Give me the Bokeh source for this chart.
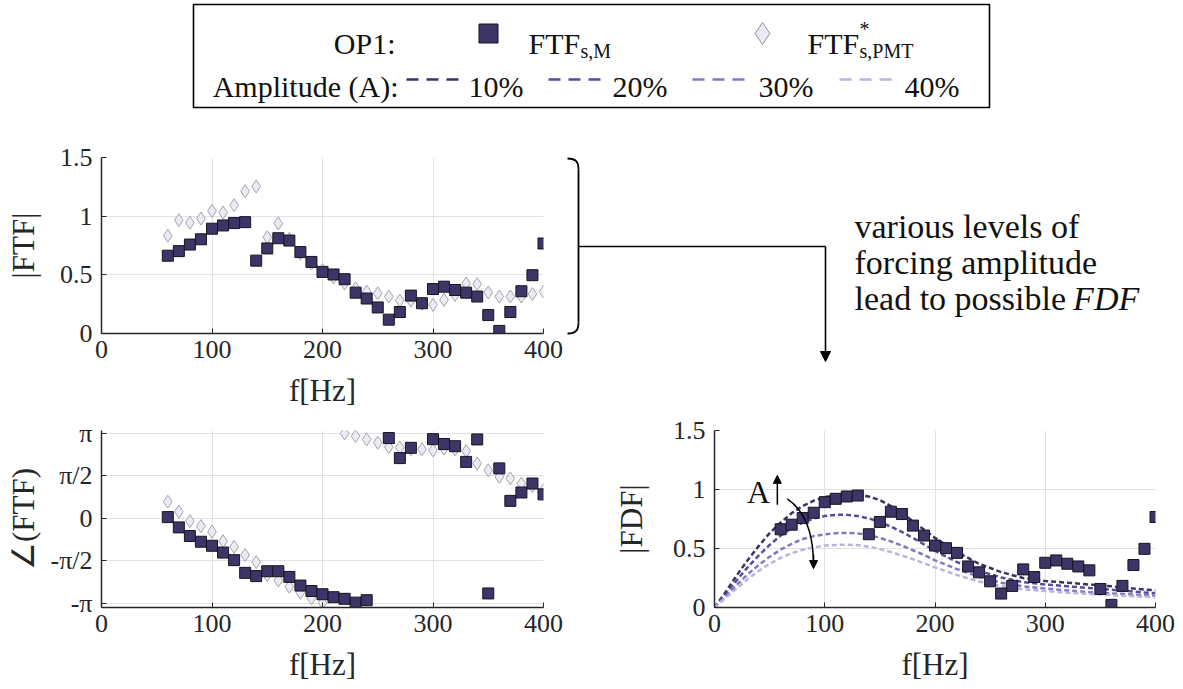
import math
from bokeh.plotting import figure
from bokeh.layouts import column, row
from bokeh.models import Range1d, FixedTicker, Label, Arrow, NormalHead
from bokeh.embed import file_html
from bokeh.resources import INLINE

FONT = "Liberation Serif"
nan = float("nan")
PI = math.pi

# ---------------- data ----------------
freq = list(range(60, 401, 10))
ftf_m_mag = [0.663, 0.702, 0.758, 0.803, 0.893, 0.921, 0.941, 0.949, 0.621, 0.725,
             0.812, 0.792, 0.694, 0.610, 0.525, 0.503, 0.463, 0.348, 0.298, 0.222,
             0.118, 0.183, 0.323, 0.258, 0.379, 0.399, 0.371, 0.348, 0.315, 0.157,
             0.022, 0.183, 0.360, 0.497, 0.767]
ftf_pmt_mag = [0.834, 0.966, 0.944, 0.980, 1.045, 1.031, 1.093, 1.213, 1.253, 0.820,
               0.938, 0.806, 0.680, 0.596, 0.540, 0.478, 0.427, 0.385, 0.357, 0.343,
               0.315, 0.281, 0.281, 0.253, 0.244, 0.287, 0.329, 0.427, 0.421, 0.350,
               0.315, 0.315, 0.315, 0.337, 0.357]
ftf_m_phase = [0.05, -0.33, -0.65, -0.86, -1.01, -1.26, -1.54, -2.01, -2.13, -1.95,
               -1.95, -2.16, -2.48, -2.68, -2.80, -2.91, -2.97, -3.11, -3.02, nan,
               2.97, 2.23, 2.61, nan, 2.93, 2.75, 2.67, 2.09, 2.92, -2.77,
               1.85, 0.65, 0.96, 1.29, 0.89]
ftf_pmt_phase = [0.62, 0.25, -0.10, -0.28, -0.49, -0.84, -1.05, -1.35, -1.61, -2.09,
                 -2.29, -2.52, -2.74, -2.95, -3.11, nan, 3.14, 3.04, 2.92, 2.80,
                 2.64, 2.62, 2.56, 2.56, 2.52, 2.58, 2.55, 2.49, 2.03, 1.78,
                 1.54, 1.48, 1.29, 1.20, 1.05]

fdf_freq = [0, 10, 20, 30, 40, 50, 60, 70, 80, 90, 100, 110, 120, 130, 140, 150, 160,
            170, 180, 190, 200, 220, 240, 260, 280, 300, 320, 340, 360, 380, 400]
fdf_a10 = [0, 0.13, 0.27, 0.40, 0.52, 0.63, 0.72, 0.80, 0.86, 0.905, 0.935, 0.95, 0.955,
           0.955, 0.94, 0.91, 0.86, 0.80, 0.73, 0.66, 0.59, 0.47, 0.37, 0.30, 0.25,
           0.225, 0.21, 0.195, 0.18, 0.16, 0.145]
fdf_a20 = [0, 0.11, 0.23, 0.34, 0.44, 0.53, 0.61, 0.67, 0.72, 0.755, 0.775, 0.785, 0.785,
           0.775, 0.755, 0.725, 0.685, 0.64, 0.59, 0.535, 0.48, 0.385, 0.31, 0.255, 0.215,
           0.195, 0.18, 0.165, 0.15, 0.135, 0.12]
fdf_a30 = [0, 0.09, 0.19, 0.28, 0.36, 0.43, 0.49, 0.54, 0.58, 0.605, 0.62, 0.63, 0.632,
           0.628, 0.615, 0.59, 0.56, 0.525, 0.485, 0.445, 0.40, 0.325, 0.26, 0.21, 0.18,
           0.16, 0.145, 0.13, 0.12, 0.11, 0.10]
fdf_a40 = [0, 0.08, 0.16, 0.24, 0.31, 0.37, 0.42, 0.46, 0.49, 0.51, 0.525, 0.53, 0.532,
           0.528, 0.515, 0.495, 0.47, 0.44, 0.41, 0.375, 0.34, 0.275, 0.22, 0.18, 0.155,
           0.14, 0.125, 0.115, 0.105, 0.095, 0.087]
fdf_series = [fdf_a10, fdf_a20, fdf_a30, fdf_a40]
amp_labels = ["10%", "20%", "30%", "40%"]
amp_colors = ["#3b3266", "#5a4a9c", "#8677c2", "#bdb3df"]

x_ticks = [0, 100, 200, 300, 400]
mag_ticks = [0, 0.5, 1, 1.5]
mag_tick_labels = ["0", "0.5", "1", "1.5"]
phase_ticks = [-PI, -PI / 2, 0, PI / 2, PI]
phase_tick_labels = ["-π", "-π/2", "0", "π/2", "π"]

SQ_FILL, SQ_LINE = "#3d3567", "#15151f"
DI_FILL, DI_LINE = "#ecebf5", "#a3a3ab"
AX = "#262626"
TXT = "#111111"


def base_fig(w, h, xr, yr, **borders):
    p = figure(width=w, height=h, x_range=xr, y_range=yr, output_backend="svg",
               toolbar_location=None, **borders)
    p.outline_line_color = None
    p.background_fill_color = "white"
    p.border_fill_color = "white"
    p.frame_align = False
    return p


def style_axes(p, xlabel, ylabel, yticks, ylabels, ystand):
    p.xaxis.ticker = FixedTicker(ticks=x_ticks)
    p.yaxis.ticker = FixedTicker(ticks=yticks)
    p.xgrid.ticker = FixedTicker(ticks=x_ticks)
    p.ygrid.ticker = FixedTicker(ticks=yticks)
    p.yaxis.major_label_overrides = {t: l for t, l in zip(yticks, ylabels)}
    p.xaxis.major_label_overrides = {t: str(t) for t in x_ticks}
    for g in (p.xgrid[0], p.ygrid[0]):
        g.grid_line_color = "#e2e2e2"
        g.grid_line_width = 1
    for ax in (p.xaxis[0], p.yaxis[0]):
        ax.axis_line_color = AX
        ax.axis_line_width = 1.5
        ax.major_tick_line_color = AX
        ax.major_tick_in = 5
        ax.major_tick_out = 0
        ax.minor_tick_line_color = None
        ax.major_label_text_font = FONT
        ax.major_label_text_font_size = "26px"
        ax.major_label_text_color = AX
        ax.axis_label_text_font = FONT
        ax.axis_label_text_font_size = "31px"
        ax.axis_label_text_font_style = "normal"
        ax.axis_label_text_color = AX
    p.xaxis.axis_label = xlabel
    p.yaxis.axis_label = ylabel
    p.xaxis.major_label_standoff = 7
    p.xaxis.axis_label_standoff = 12
    p.yaxis.major_label_standoff = 9
    p.yaxis.axis_label_standoff = ystand


def add_points(p, ys_d, ys_s):
    p.scatter(freq, ys_d, marker="diamond", size=13, fill_color=DI_FILL,
              line_color=DI_LINE, line_width=1)
    p.scatter(freq, ys_s, marker="square", size=11, fill_color=SQ_FILL,
              line_color=SQ_LINE, line_width=1)


# ---------------- legend ----------------
leg = base_fig(1183, 110, Range1d(0, 1183), Range1d(110, 0),
               min_border_left=0, min_border_right=0, min_border_top=0, min_border_bottom=0)
leg.axis.visible = False
leg.grid.visible = False
leg.quad(left=[193], right=[989], top=[4], bottom=[107], fill_color=None,
         line_color="black", line_width=1.6)

def ltext(x, y, t, size="30px", align="left", style="normal"):
    leg.add_layout(Label(x=x, y=y, text=t, text_font=FONT, text_font_size=size,
                         text_align=align, text_baseline="alphabetic",
                         text_font_style=style, text_color=TXT))

ltext(395, 43, "OP1:", align="right")
leg.scatter([488], [33], marker="square", size=19, fill_color=SQ_FILL,
            line_color=SQ_LINE, line_width=1)
ltext(528, 43, "FTF")
ltext(580, 50, "s,M", size="20px")
leg.scatter([762], [33], marker="diamond", size=22, fill_color=DI_FILL,
            line_color="#8f8f97", line_width=1)
ltext(807, 43, "FTF")
ltext(859, 28, "*", size="20px")
ltext(859, 50, "s,PMT", size="20px")

ltext(398, 86, "Amplitude (A):", align="right")
dash_x0 = [406, 548, 692, 839]
label_x0 = [468, 612, 758, 904]
for i in range(4):
    leg.line([dash_x0[i], dash_x0[i] + 53], [79, 79], line_color=amp_colors[i],
             line_width=2.5, line_dash="12 8")
    ltext(label_x0[i], 86, amp_labels[i])

# ---------------- top-left: |FTF| ----------------
tl = base_fig(564, 300, Range1d(0, 400), Range1d(0, 1.5),
              min_border_left=101, min_border_right=21, min_border_top=47, min_border_bottom=75)
style_axes(tl, "f[Hz]", "|FTF|", mag_ticks, mag_tick_labels, 16)
add_points(tl, ftf_pmt_mag, ftf_m_mag)

# ---------------- bottom-left: phase ----------------
bl = base_fig(564, 279, Range1d(0, 400), Range1d(-3.29, 3.25),
              min_border_left=101, min_border_right=21, min_border_top=20, min_border_bottom=82)
style_axes(bl, "f[Hz]", "∠(FTF)", phase_ticks, phase_tick_labels, 6)
add_points(bl, ftf_pmt_phase, ftf_m_phase)

# ---------------- annotation panel ----------------
an = base_fig(619, 300, Range1d(564, 1183), Range1d(410, 110),
              min_border_left=0, min_border_right=0, min_border_top=0, min_border_bottom=0)
an.axis.visible = False
an.grid.visible = False
an.bezier(x0=[567], y0=[158], x1=[578], y1=[169], cx0=[576], cy0=[158], cx1=[578], cy1=[162],
          line_color="black", line_width=1.8)
an.line([578, 578], [169, 322], line_color="black", line_width=1.8)
an.bezier(x0=[578], y0=[322], x1=[567], y1=[333], cx0=[578], cy0=[329], cx1=[576], cy1=[333],
          line_color="black", line_width=1.8)
an.line([578, 825], [246, 246], line_color="black", line_width=1.6)
an.add_layout(Arrow(x_start=825, y_start=246, x_end=825, y_end=361, line_color="black",
                    line_width=1.6, end=NormalHead(size=10, fill_color="black",
                                                   line_color="black", line_width=1)))
ANN = 34
for t, y in zip(["various levels of", "forcing amplitude", "lead to possible"], [226, 262, 298]):
    an.add_layout(Label(x=854, y=y, text=t, text_font=FONT, text_font_size=f"{ANN}px",
                        text_baseline="alphabetic", text_color=TXT))
an.add_layout(Label(x=854 + 6.43 * ANN, y=298, text="FDF", text_font=FONT,
                    text_font_size=f"{ANN}px", text_font_style="italic",
                    text_baseline="alphabetic", text_color=TXT))

# ---------------- bottom-right: |FDF| ----------------
br = base_fig(619, 279, Range1d(0, 400), Range1d(0, 1.5),
              min_border_left=150, min_border_right=28, min_border_top=20, min_border_bottom=82)
style_axes(br, "f[Hz]", "|FDF|", mag_ticks, mag_tick_labels, 21)
for ys, c in zip(fdf_series, amp_colors):
    br.line(fdf_freq, ys, line_color=c, line_width=2.5, line_dash="5 3")
br.scatter(freq, ftf_m_mag, marker="square", size=11, fill_color=SQ_FILL,
           line_color=SQ_LINE, line_width=1)
br.add_layout(Label(x=40, y=0.975, text="A", text_font=FONT, text_font_size="32px",
                    text_align="center", text_baseline="middle", text_color=TXT))
br.add_layout(Arrow(x_start=57, y_start=0.87, x_end=57, y_end=1.12, line_color="black",
                    line_width=1.5, end=NormalHead(size=8, fill_color="black",
                                                   line_color="black", line_width=1)))
br.bezier(x0=[66], y0=[0.92], x1=[89.8], y1=[0.36], cx0=[82], cy0=[0.82], cx1=[89.8], cy1=[0.62],
          line_color="black", line_width=1.5)
br.add_layout(Arrow(x_start=89.8, y_start=0.45, x_end=89.8, y_end=0.33, line_color="black",
                    line_width=1.5, end=NormalHead(size=8, fill_color="black",
                                                   line_color="black", line_width=1)))

layout = column(leg, row(column(tl, bl), column(an, br)))
open("out.html", "w").write(file_html(layout, INLINE))
